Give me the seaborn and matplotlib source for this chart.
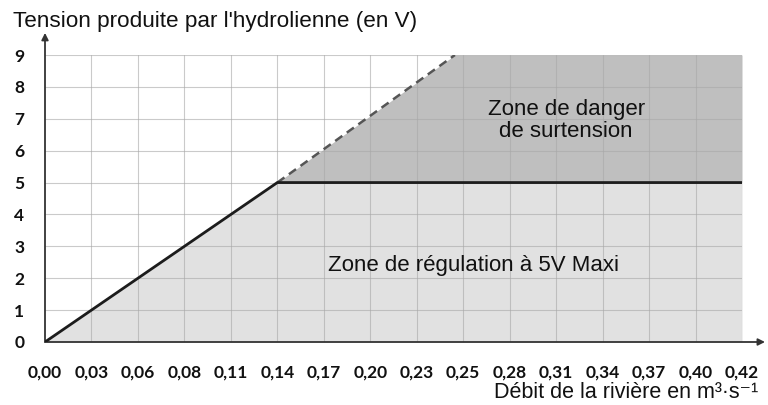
import numpy as np
import pandas as pd
import matplotlib
matplotlib.use("Agg")
import matplotlib.pyplot as plt
import seaborn as sns

# data
x_ticks = np.linspace(0, 0.42, 16)
x_labels = ['0,00', '0,03', '0,06', '0,08', '0,11', '0,14', '0,17', '0,20',
            '0,23', '0,25', '0,28', '0,31', '0,34', '0,37', '0,40', '0,42']
y_ticks = list(range(0, 10))

reg_x = [0.0, 0.14, 0.42]      # regulated voltage (solid)
reg_y = [0.0, 5.0, 5.0]
free_x = [0.14, 0.247]         # unregulated voltage (dashed)
free_y = [5.0, 9.0]
y_max = 9

sns.set_style("white")
plt.rcParams['font.family'] = ['Liberation Sans', 'DejaVu Sans']

fig = plt.figure(figsize=(7.68, 4.05), dpi=100)
ax = fig.add_axes([45/768, 1-342/405, 697/768, 287/405])

# zones
ax.fill_between(reg_x, 0, reg_y, color='#e1e1e1', zorder=1, lw=0)
danger_x = [free_x[0], free_x[1], reg_x[-1]]
ax.fill_between(danger_x, [reg_y[1]] * 3, [free_y[0], free_y[1], y_max],
                color='#bfbfbf', zorder=1, lw=0)

# grid
for xv in x_ticks[1:]:
    ax.axvline(xv, color='#a8a8a8', lw=0.8, alpha=0.6, zorder=2)
for yv in y_ticks[1:]:
    ax.axhline(yv, color='#a8a8a8', lw=0.8, alpha=0.6, zorder=2)

df_reg = pd.DataFrame({'x': reg_x, 'y': reg_y})
df_free = pd.DataFrame({'x': free_x, 'y': free_y})
sns.lineplot(data=df_reg, x='x', y='y', ax=ax, color='#1c1c1c', lw=2.0,
             zorder=4, sort=False)
sns.lineplot(data=df_free, x='x', y='y', ax=ax, color='#555555', lw=1.8,
             zorder=3, sort=False, linestyle=(0, (3.5, 2.2)))

ax.set_xlim(0, 0.42)
ax.set_ylim(0, y_max)
for s in ax.spines.values():
    s.set_visible(False)

ax.set_xticks(x_ticks)
ax.set_xticklabels(x_labels)
ax.set_yticks(y_ticks)
ax.tick_params(length=0)
ax.tick_params(axis='x', pad=16)
ax.tick_params(axis='y', pad=15)
for lab in ax.get_xticklabels() + ax.get_yticklabels():
    lab.set_fontfamily('Lato')
    lab.set_fontweight('bold')
    lab.set_fontsize(12.5)
    lab.set_color('#111111')
ax.set_xlabel('')
ax.set_ylabel('')

# axes with arrows
ax.annotate('', xy=(0, 1.077), xytext=(0, 0), xycoords='axes fraction',
            arrowprops=dict(arrowstyle='-|>', color='#333333', lw=1.3,
                            mutation_scale=10, shrinkA=0, shrinkB=0))
ax.annotate('', xy=(1.033, 0), xytext=(0, 0), xycoords='axes fraction',
            arrowprops=dict(arrowstyle='-|>', color='#333333', lw=1.3,
                            mutation_scale=10, shrinkA=0, shrinkB=0))

ax.text(0.314, 6.94, 'Zone de danger\nde surtension', ha='center', va='center',
        fontsize=16, color='#111111', zorder=5, linespacing=1.05)
ax.text(0.258, 2.41, 'Zone de régulation à 5V Maxi', ha='center', va='center',
        fontsize=16, color='#111111', zorder=5)

fig.text(13/768, 1-22/405, "Tension produite par l'hydrolienne (en V)",
         ha='left', va='center', fontsize=16.2, color='#111111')
fig.text(758/768, 1-392/405, 'Débit de la rivière en m³·s⁻¹',
         ha='right', va='center', fontsize=15.5, color='#111111')

fig.savefig('out.png', dpi=100)
